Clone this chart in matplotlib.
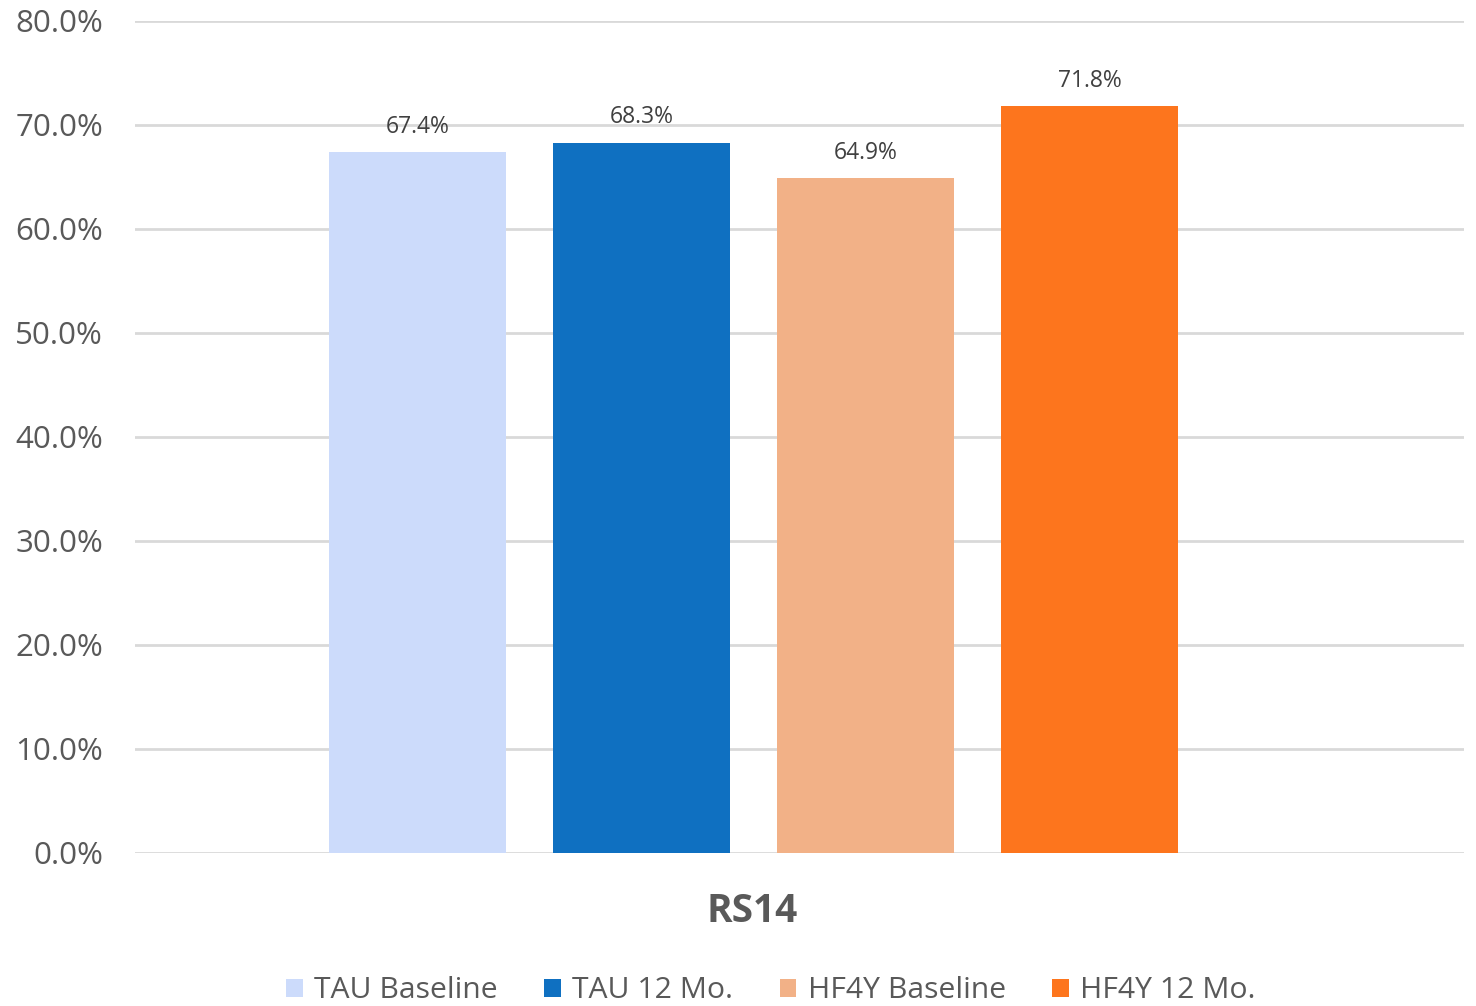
import matplotlib
matplotlib.use("Agg")
import matplotlib.pyplot as plt
from matplotlib.patches import Patch

categories = ["TAU Baseline", "TAU 12 Mo.", "HF4Y Baseline", "HF4Y 12 Mo."]
values = [67.4, 68.3, 64.9, 71.8]
colors = ["#CCDBFB", "#0F70C1", "#F2B187", "#FD751D"]
group_label = "RS14"
yticks = [0, 10, 20, 30, 40, 50, 60, 70, 80]

text_color = "#595959"
narrow = ["Liberation Sans Narrow", "Open Sans", "DejaVu Sans"]

fig = plt.figure(figsize=(14.76, 10.06), dpi=100)
ax = fig.add_axes([135 / 1476, 1 - 853 / 1006, (1464 - 135) / 1476, (853 - 21) / 1006])

positions = list(range(len(values)))
bars = ax.bar(positions, values, width=0.79, color=colors, zorder=3)

for x, v in zip(positions, values):
    ax.text(x, v + 1.3, f"{v:.1f}%", ha="center", va="bottom",
            fontsize=16.5, color="#404040", family=narrow, zorder=4)

ax.set_ylim(0, 80)
ax.set_xlim(-1.261, 4.672)
ax.set_yticks(yticks)
ax.set_yticklabels([f"{t:.1f}%" for t in yticks], fontsize=22.5,
                   color=text_color, family=["Open Sans", "DejaVu Sans"])
ax.tick_params(axis="y", length=0, pad=23)
ax.set_xticks([])
ax.yaxis.grid(True, color="#D9D9D9", linewidth=2, zorder=0)
for s in ax.spines.values():
    s.set_visible(False)

fig.text(752 / 1476, 1 - 911 / 1006, group_label, ha="center", va="center",
         fontsize=28, fontweight="bold", color=text_color,
         family=["Open Sans", "DejaVu Sans"])

handles = [Patch(facecolor=c, edgecolor="none") for c in colors]
fig.legend(handles, categories, loc="center", bbox_to_anchor=(771 / 1476, 1 - 991 / 1006),
           ncol=4, frameon=False, handlelength=0.55, handleheight=0.55,
           handletextpad=0.37, columnspacing=1.55,
           prop={"family": narrow, "size": 21.7}, labelcolor=text_color)

fig.savefig("out.png", dpi=100, facecolor="white")
